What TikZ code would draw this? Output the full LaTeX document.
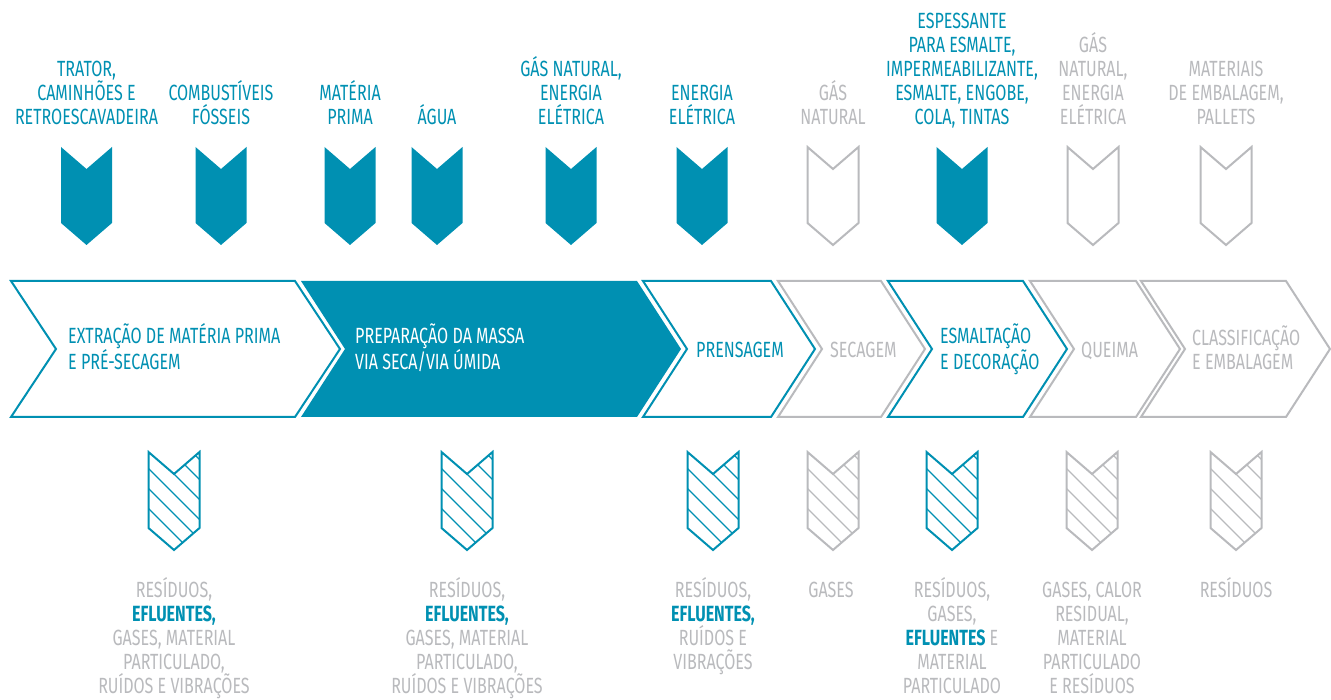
\documentclass[tikz,border=0pt]{standalone}
\usepackage{fontspec}
\setmainfont{Fira Sans}[FakeStretch=0.73]
\definecolor{cblue}{RGB}{0,144,178}
\definecolor{cgrey}{RGB}{185,186,189}
\newcommand\lblfont{\fontsize{22}{24}\selectfont}
\newcommand\eff[1]{\textcolor{cblue}{\textbf{#1}}}
% big process chevron: x-left, x-right, depth, style
\newcommand\bigchev[4]{%
  \path[#4] (#1,281) -- (#2,281) -- ({#2+#3},349) -- (#2,417) -- (#1,417) -- ({#1+#3},349) -- cycle;}
% small input icon: centre x, top y, style
\newcommand\smallchev[3]{%
  \path[#3] ({#1-25.5},#2) -- (#1,{#2+22}) -- ({#1+25.5},#2) -- ({#1+25.5},{#2+76}) -- (#1,{#2+98}) -- ({#1-25.5},{#2+76}) -- cycle;}
% hatched output icon: centre x, colour
\newcommand\hatchchev[2]{%
  \begin{scope}
    \clip ({#1-25.5},452) -- (#1,474) -- ({#1+25.5},452) -- ({#1+25.5},528) -- (#1,550) -- ({#1-25.5},528) -- cycle;
    \foreach \k in {-44,-24,...,76}
      \draw[#2, line width=1.1pt] ({#1-27},{451+\k}) -- ({#1+27},{505+\k});
  \end{scope}
  \smallchev{#1}{452}{draw=#2, line width=2pt, line join=miter}}
\tikzset{
  toplbl/.style={font=\lblfont, inner sep=0pt, anchor=base, align=center, text=#1},
  botlbl/.style={font=\lblfont, inner sep=0pt, anchor=base, align=center, text=cgrey},
  steplbl/.style={font=\lblfont, inner sep=0pt, anchor=base west, align=left, text=#1},
  outchev/.style={draw=#1, line width=2pt, fill=white, line join=miter},
  fillchev/.style={fill=cblue},
  greychev/.style={draw=cgrey, line width=2pt, fill=white, line join=miter}
}
\begin{document}
\begin{tikzpicture}[x=1pt,y=-1pt]
\useasboundingbox (0,0) rectangle (1331,700);

% process chevrons
\bigchev{11}{295}{45}{outchev=cblue}
\bigchev{301}{637}{44}{fillchev}
\bigchev{643}{771}{44}{outchev=cblue}
\bigchev{778}{881}{44}{outchev=cgrey}
\bigchev{888}{1023}{44}{outchev=cblue}
\bigchev{1030}{1136}{44}{outchev=cgrey}
\bigchev{1141}{1286}{44}{outchev=cgrey}

% input icons
\smallchev{86.5}{147}{fill=cblue}
\smallchev{221}{147}{fill=cblue}
\smallchev{350}{147}{fill=cblue}
\smallchev{437}{147}{fill=cblue}
\smallchev{571}{147}{fill=cblue}
\smallchev{702}{147}{fill=cblue}
\smallchev{833}{147}{greychev}
\smallchev{962}{147}{fill=cblue}
\smallchev{1093}{147}{greychev}
\smallchev{1226}{147}{greychev}

% output icons
\hatchchev{174}{cblue}
\hatchchev{467}{cblue}
\hatchchev{713}{cblue}
\hatchchev{833}{cgrey}
\hatchchev{952}{cblue}
\hatchchev{1092}{cgrey}
\hatchchev{1236}{cgrey}

% input labels (anchor = baseline of last line)
\node[toplbl=cblue] (in1) at (86.5,125) {TRATOR,\\CAMINHÕES E\\RETROESCAVADEIRA};
\node[toplbl=cblue] (in2) at (221,125) {COMBUSTÍVEIS\\FÓSSEIS};
\node[toplbl=cblue] (in3) at (350,125) {MATÉRIA\\PRIMA};
\node[toplbl=cblue] (in4) at (437,125) {ÁGUA};
\node[toplbl=cblue] (in5) at (571,125) {GÁS NATURAL,\\ENERGIA\\ELÉTRICA};
\node[toplbl=cblue] (in6) at (702,125) {ENERGIA\\ELÉTRICA};
\node[toplbl=cgrey] (in7) at (833,125) {GÁS\\NATURAL};
\node[toplbl=cblue] (in8) at (962,125) {ESPESSANTE\\PARA ESMALTE,\\IMPERMEABILIZANTE,\\ESMALTE, ENGOBE,\\COLA, TINTAS};
\node[toplbl=cgrey] (in9) at (1093,125) {GÁS\\NATURAL,\\ENERGIA\\ELÉTRICA};
\node[toplbl=cgrey] (in10) at (1226,125) {MATERIAIS\\DE EMBALAGEM,\\PALLETS};

% process labels
\node[steplbl=cblue] (p1) at (68,369.5) {EXTRAÇÃO DE MATÉRIA PRIMA\\E PRÉ-SECAGEM};
\node[steplbl=white] (p2) at (355,369.5) {PREPARAÇÃO DA MASSA\\VIA SECA/VIA ÚMIDA};
\node[steplbl=cblue] (p3) at (696,357.5) {PRENSAGEM};
\node[steplbl=cgrey] (p4) at (830,357.5) {SECAGEM};
\node[steplbl=cblue] (p5) at (940,369.5) {ESMALTAÇÃO\\E DECORAÇÃO};
\node[steplbl=cgrey] (p6) at (1081,357.5) {QUEIMA};
\node[steplbl=cgrey] (p7) at (1192,369.5) {CLASSIFICAÇÃO\\E EMBALAGEM};

% output labels
\node[botlbl] (out1) at (174,693.5) {RESÍDUOS,\\\eff{EFLUENTES,}\\GASES, MATERIAL\\PARTICULADO,\\RUÍDOS E VIBRAÇÕES};
\node[botlbl] (out2) at (467,693.5) {RESÍDUOS,\\\eff{EFLUENTES,}\\GASES, MATERIAL\\PARTICULADO,\\RUÍDOS E VIBRAÇÕES};
\node[botlbl] (out3) at (713,669.5) {RESÍDUOS,\\\eff{EFLUENTES,}\\RUÍDOS E\\VIBRAÇÕES};
\node[botlbl] (out4) at (831,597.5) {GASES};
\node[botlbl] (out5) at (952,693.5) {RESÍDUOS,\\GASES,\\\eff{EFLUENTES} E\\MATERIAL\\PARTICULADO};
\node[botlbl] (out6) at (1092,693.5) {GASES, CALOR\\RESIDUAL,\\MATERIAL\\PARTICULADO\\E RESÍDUOS};
\node[botlbl] (out7) at (1236,597.5) {RESÍDUOS};
\end{tikzpicture}
\end{document}
